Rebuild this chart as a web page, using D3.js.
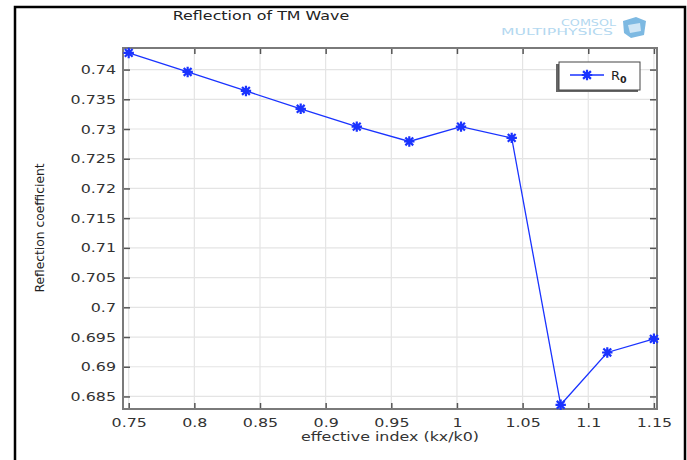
<!DOCTYPE html>
<html>
<head>
<meta charset="utf-8">
<script src="https://cdn.jsdelivr.net/npm/d3@7"></script>
<style>
  body { margin: 0; background: #fff; }
  svg { display: block; font-family: "DejaVu Sans", Verdana, sans-serif; }
</style>
</head>
<body>
<div id="chart"></div>
<script>
// effective index (kx/k0) and reflection coefficient R0
const kxIndex = [0.75, 0.7949, 0.8393, 0.881, 0.9237, 0.9637, 1.0031, 1.0417, 1.079, 1.1145, 1.15];
const reflection = [0.7428, 0.7396, 0.7364, 0.7334, 0.7304, 0.7279, 0.7304, 0.7285, 0.6836, 0.6924, 0.6947];
const xTicks = [0.75, 0.8, 0.85, 0.9, 0.95, 1, 1.05, 1.1, 1.15];
const yTicks = [0.685, 0.69, 0.695, 0.7, 0.705, 0.71, 0.715, 0.72, 0.725, 0.73, 0.735, 0.74];

const width = 687, height = 460;
const plot = { left: 123, right: 657, top: 48, bottom: 409 };
const blue = '#1a33ff';
const stretch = 1.27; // reference text looks horizontally stretched

const svg = d3.select('#chart').append('svg')
  .attr('width', width).attr('height', height);

const x = d3.scaleLinear().domain([0.74566, 1.15236]).range([plot.left, plot.right]);
const y = d3.scaleLinear().domain([0.68289, 0.74363]).range([plot.bottom, plot.top]);

// outer frame
svg.append('rect')
  .attr('x', 15).attr('y', 7).attr('width', 670).attr('height', 470)
  .attr('fill', 'none').attr('stroke', '#000').attr('stroke-width', 2.5);

// grid
const grid = svg.append('g').attr('stroke', '#e4e4e4').attr('stroke-width', 1.2);
grid.selectAll('.gx').data(xTicks).enter().append('line')
  .attr('x1', d => x(d)).attr('x2', d => x(d))
  .attr('y1', plot.top).attr('y2', plot.bottom);
grid.selectAll('.gy').data(yTicks).enter().append('line')
  .attr('y1', d => y(d)).attr('y2', d => y(d))
  .attr('x1', plot.left).attr('x2', plot.right);

// axes (inward ticks)
const fmt = d3.format('.3~f');
const axB = svg.append('g').attr('transform', `translate(0,${plot.bottom})`)
  .call(d3.axisBottom(x).tickValues(xTicks).tickFormat(fmt).tickSizeInner(-6).tickSizeOuter(0).tickPadding(9));
const axL = svg.append('g').attr('transform', `translate(${plot.left},0)`)
  .call(d3.axisLeft(y).tickValues(yTicks).tickFormat(fmt).tickSizeInner(-7).tickSizeOuter(0).tickPadding(7));
const axT = svg.append('g').attr('transform', `translate(0,${plot.top})`)
  .call(d3.axisTop(x).tickValues(xTicks).tickFormat('').tickSizeInner(-6).tickSizeOuter(0));
const axR = svg.append('g').attr('transform', `translate(${plot.right},0)`)
  .call(d3.axisRight(y).tickValues(yTicks).tickFormat('').tickSizeInner(-7).tickSizeOuter(0));

[axB, axL, axT, axR].forEach(a => {
  a.select('.domain').remove();
  a.selectAll('.tick line').attr('stroke', '#555').attr('stroke-width', 1.5);
  a.selectAll('.tick text').attr('fill', '#333').style('font-size', '12.5px')
    .style('font-family', '"DejaVu Sans", Verdana, sans-serif');
});

// box
svg.append('rect')
  .attr('x', plot.left).attr('y', plot.top)
  .attr('width', plot.right - plot.left).attr('height', plot.bottom - plot.top)
  .attr('fill', 'none').attr('stroke', '#7a7a7a').attr('stroke-width', 2);

// data line
const pts = kxIndex.map((k, i) => [k, reflection[i]]);
svg.append('path')
  .datum(pts)
  .attr('fill', 'none').attr('stroke', blue).attr('stroke-width', 1.3)
  .attr('d', d3.line().x(d => x(d[0])).y(d => y(d[1])));

function star (g, r) {
  const a = r * 0.75;
  g.append('path')
    .attr('d', `M${-r},0L${r},0M0,${-r}L0,${r}M${-a},${-a}L${a},${a}M${-a},${a}L${a},${-a}`)
    .attr('stroke', blue).attr('stroke-width', 2.2).attr('fill', 'none');
}

svg.selectAll('.marker').data(pts).enter().append('g')
  .attr('class', 'marker')
  .attr('transform', d => `translate(${x(d[0])},${y(d[1])})`)
  .each(function () { star(d3.select(this), 5.2); });

// legend
const lg = svg.append('g');
lg.append('rect').attr('x', 556).attr('y', 64).attr('width', 82).attr('height', 28).attr('fill', '#666');
lg.append('rect').attr('x', 559).attr('y', 62).attr('width', 81).attr('height', 28)
  .attr('fill', '#fff').attr('stroke', '#444').attr('stroke-width', 1);
lg.append('line').attr('x1', 570).attr('x2', 604).attr('y1', 75).attr('y2', 75)
  .attr('stroke', blue).attr('stroke-width', 1.3);
star(lg.append('g').attr('transform', 'translate(587,75)'), 5.2);
const lt = lg.append('text').attr('x', 611).attr('y', 80).attr('fill', '#222')
  .style('font-size', '13px');
lt.append('tspan').text('R');
lt.append('tspan').attr('dy', 3).style('font-size', '9.5px').style('font-weight', 'bold').text('0');

// titles
svg.append('text').attr('class', 'stretch').attr('x', 261).attr('y', 19.5)
  .attr('text-anchor', 'middle').attr('fill', '#222').style('font-size', '12.5px')
  .text('Reflection of TM Wave');
svg.append('text').attr('class', 'stretch').attr('x', 390).attr('y', 441)
  .attr('text-anchor', 'middle').attr('fill', '#333').style('font-size', '12.5px')
  .text('effective index (kx/k0)');
svg.append('text')
  .attr('transform', 'translate(44,228) rotate(-90)')
  .attr('text-anchor', 'middle').attr('fill', '#222').style('font-size', '12.3px')
  .text('Reflection coefficient');

// COMSOL logo
const logo = svg.append('g').attr('fill', '#b3d8f0');
logo.append('text').attr('x', 616).attr('y', 26).attr('text-anchor', 'end')
  .attr('textLength', 55).attr('lengthAdjust', 'spacingAndGlyphs')
  .style('font-size', '9px').text('COMSOL');
logo.append('text').attr('x', 613).attr('y', 35).attr('text-anchor', 'end')
  .attr('textLength', 112).attr('lengthAdjust', 'spacingAndGlyphs')
  .style('font-size', '9px').text('MULTIPHYSICS');
logo.append('path').attr('d', 'M623,21L636,17L646,21L644,35L631,38L624,33Z').attr('fill', '#7db9e2');
logo.append('path').attr('d', 'M628,25L640,23L641,31L630,33Z').attr('fill', '#cfe6f6');

// widen horizontal text to match the stretched look
svg.selectAll('.tick text, text.stretch').each(function () {
  const t = d3.select(this);
  const len = this.getComputedTextLength();
  t.attr('textLength', len * stretch).attr('lengthAdjust', 'spacingAndGlyphs');
});
</script>
</body>
</html>
